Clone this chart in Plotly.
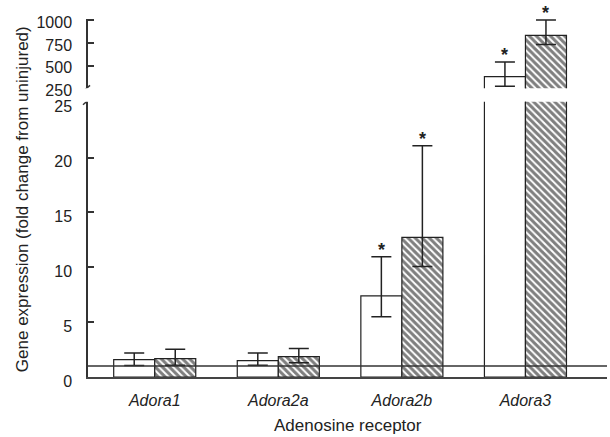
import plotly.graph_objects as go

categories = ["Adora1", "Adora2a", "Adora2b", "Adora3"]
open_vals = [1.58, 1.49, 7.39, 379]
open_err_plus = [0.60, 0.69, 3.57, 161]
open_err_minus = [0.53, 0.41, 1.90, 107]
hatch_vals = [1.67, 1.85, 12.73, 834]
hatch_err_plus = [0.85, 0.74, 8.35, 169]
hatch_err_minus = [0.60, 0.55, 2.66, 102]
stars_open = [False, False, True, True]
stars_hatch = [False, False, True, True]

lower_ticks = [0, 5, 10, 15, 20, 25]
upper_ticks = [250, 500, 750, 1000]
lower_range = [0, 25.1]
upper_range = [250, 1014]

FONT = "Liberation Sans, Arial, sans-serif"
INK = "#222222"
bargap = 0.336
bw = (1 - bargap) / 2

fig = go.Figure()

def add_bars(xa, ya):
    fig.add_trace(go.Bar(
        x=categories, y=open_vals, xaxis=xa, yaxis=ya,
        marker=dict(color="white", line=dict(color=INK, width=1.2)),
        error_y=dict(type="data", array=open_err_plus, arrayminus=open_err_minus,
                     color=INK, thickness=1.5, width=10),
        showlegend=False))
    fig.add_trace(go.Bar(
        x=categories, y=hatch_vals, xaxis=xa, yaxis=ya,
        marker=dict(color="white", line=dict(color=INK, width=1.2),
                    pattern=dict(shape="\\", fgcolor="black", bgcolor="white",
                                 size=5, solidity=0.6)),
        error_y=dict(type="data", array=hatch_err_plus, arrayminus=hatch_err_minus,
                     color=INK, thickness=1.5, width=10),
        showlegend=False))

add_bars("x", "y")
add_bars("x2", "y2")

# significance stars
for i in range(len(categories)):
    for flag, v, e, off in [(stars_open[i], open_vals[i], open_err_plus[i], -bw / 2),
                            (stars_hatch[i], hatch_vals[i], hatch_err_plus[i], bw / 2)]:
        if flag:
            top = v + e
            yref = "y" if top <= lower_range[1] else "y2"
            fig.add_annotation(x=i + off, y=top, xref="x", yref=yref, text="<b>*</b>",
                               showarrow=False, yanchor="bottom", yshift=-5,
                               font=dict(family=FONT, size=18, color=INK))

fig.update_layout(
    width=610, height=437,
    margin=dict(l=88, r=3, t=19, b=60, autoexpand=False),
    paper_bgcolor="white", plot_bgcolor="white",
    barmode="group", bargap=bargap, bargroupgap=0,
    font=dict(family=FONT, color=INK, size=16),
    xaxis=dict(domain=[0, 1], anchor="y", range=[-0.54, 3.66], automargin=False,
               showline=True, linecolor="#444", linewidth=1.5,
               ticks="", showgrid=False, zeroline=False,
               tickfont=dict(family=FONT, size=16, style="italic", color=INK),
               ticklabelstandoff=8),
    xaxis2=dict(domain=[0, 1], anchor="y2", matches="x", range=[-0.54, 3.66],
                automargin=False,
                showline=False, ticks="", showticklabels=False, showgrid=False,
                zeroline=False),
    yaxis=dict(domain=[0, 0.769], range=lower_range, anchor="x", automargin=False,
               tickvals=lower_ticks, ticks="", showgrid=False, zeroline=False,
               showline=True, linecolor="#333", linewidth=1.5,
               minor=dict(tickvals=lower_ticks[1:-1], ticks="inside", ticklen=6,
                          tickcolor="#333", tickwidth=1.5, showgrid=False),
               tickfont=dict(family=FONT, size=16, color=INK),
               ticklabelstandoff=11, ticklabelshift=4),
    yaxis2=dict(domain=[0.8064, 1], range=upper_range, anchor="x2", automargin=False,
                tickvals=upper_ticks, ticks="", showgrid=False, zeroline=False,
                showline=True, linecolor="#333", linewidth=1.5,
                minor=dict(tickvals=upper_ticks[1:], ticks="inside", ticklen=6,
                           tickcolor="#333", tickwidth=1.5, showgrid=False),
                tickfont=dict(family=FONT, size=16, color=INK),
                ticklabelstandoff=11, ticklabelshift=2),
)

# reference line at fold change = 1
fig.add_shape(type="line", xref="paper", yref="y", x0=0, x1=1, y0=1, y1=1,
              line=dict(color="#333", width=1.5), layer="above")

# axis break marks
for yref, anchor in [("y2", upper_range[0]), ("y", lower_range[1])]:
    fig.add_shape(type="line", xref="paper", yref=yref,
                  xsizemode="pixel", ysizemode="pixel", xanchor=0, yanchor=anchor,
                  x0=-5, x1=2, y0=-3, y1=3,
                  line=dict(color="#333", width=1.5), layer="above")

# axis titles
fig.add_annotation(text="Gene expression (fold change from uninjured)",
                   xref="paper", yref="paper", x=-0.127, y=0.497,
                   textangle=-90, showarrow=False, xanchor="center", yanchor="middle",
                   font=dict(family=FONT, size=17, color=INK))
fig.add_annotation(text="Adenosine receptor",
                   xref="paper", yref="paper", x=0.5, y=-0.135,
                   showarrow=False, xanchor="center", yanchor="middle",
                   font=dict(family=FONT, size=17, color=INK))

fig.write_html("out.html",
               config={"displayModeBar": False},
               post_script="document.body.style.margin='0px';"
                           "document.body.style.overflow='hidden';")
